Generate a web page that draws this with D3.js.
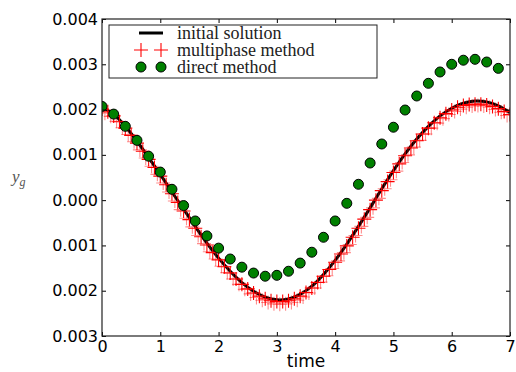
<!DOCTYPE html>
<html>
<head>
<meta charset="utf-8">
<script src="https://cdn.jsdelivr.net/npm/d3@7"></script>
<style>
  body { margin: 0; background: #fff; }
</style>
</head>
<body>
<svg id="chart" width="516" height="372"></svg>
<script>
// axis ticks
const xTicks = [0, 1, 2, 3, 4, 5, 6, 7];
const yTicks = [0.004, 0.003, 0.002, 0.001, 0.0, -0.001, -0.002, -0.003];
// the reference prints the labels without minus signs
const yTickLabels = ['0.004', '0.003', '0.002', '0.001', '0.000', '0.001', '0.002', '0.003'];

const legendLabels = ['initial solution', 'multiphase method', 'direct method'];

// initial solution (black line) and direct method (green dots), sampled every 0.2
const sampleTime = [0, 0.2, 0.4, 0.6, 0.8, 1, 1.2, 1.4, 1.6, 1.8, 2, 2.2, 2.4, 2.6, 2.8, 3, 3.2, 3.4,
  3.6, 3.8, 4, 4.2, 4.4, 4.6, 4.8, 5, 5.2, 5.4, 5.6, 5.8, 6, 6.2, 6.4, 6.6, 6.8, 7];
const initialValues = [0.00205, 0.00190, 0.00163, 0.00130, 0.00094, 0.00057, 0.00018, -0.00020,
  -0.00058, -0.00095, -0.00128, -0.00157, -0.00182, -0.00201, -0.00214, -0.00220, -0.00218, -0.00208,
  -0.00190, -0.00164, -0.00133, -0.00097, -0.00058, -0.00017, 0.00025, 0.00065, 0.00102, 0.00135,
  0.00163, 0.00186, 0.00203, 0.00214, 0.00219, 0.00217, 0.00208, 0.00193];
const directTime = sampleTime.slice(0, 35);
const directValues = [0.00207, 0.00190, 0.00163, 0.00132, 0.00097, 0.00062, 0.00024, -0.00012,
  -0.00046, -0.00079, -0.00106, -0.00130, -0.00148, -0.00161, -0.00168, -0.00166, -0.00157, -0.00139,
  -0.00115, -0.00082, -0.00046, -0.00007, 0.00035, 0.00082, 0.00124, 0.00161, 0.00199, 0.00230,
  0.00258, 0.00283, 0.00300, 0.00309, 0.00311, 0.00305, 0.00291];

// multiphase method, two interleaved sets of crosses
const multiTimeA = [0, 0.1, 0.2, 0.3, 0.4, 0.5, 0.6, 0.7, 0.8, 0.9, 1, 1.1, 1.2, 1.3, 1.4, 1.5, 1.6, 1.7,
  1.8, 1.9, 2, 2.1, 2.2, 2.3, 2.4, 2.5, 2.6, 2.7, 2.8, 2.9, 3, 3.1, 3.2, 3.3, 3.4, 3.5, 3.6, 3.7, 3.8,
  3.9, 4, 4.1, 4.2, 4.3, 4.4, 4.5, 4.6, 4.7, 4.8, 4.9, 5, 5.1, 5.2, 5.3, 5.4, 5.5, 5.6, 5.7, 5.8, 5.9,
  6, 6.1, 6.2, 6.3, 6.4, 6.5, 6.6, 6.7, 6.8, 6.9, 7];
const multiValuesA = [0.00201, 0.00195, 0.00186, 0.00173, 0.00159, 0.00143, 0.00126, 0.00108, 0.00090,
  0.00072, 0.00053, 0.00034, 0.00014, -0.00005, -0.00024, -0.00043, -0.00062, -0.00081, -0.00099,
  -0.00116, -0.00132, -0.00147, -0.00161, -0.00174, -0.00186, -0.00196, -0.00205, -0.00212, -0.00218,
  -0.00222, -0.00224, -0.00224, -0.00222, -0.00218, -0.00212, -0.00204, -0.00194, -0.00182, -0.00168,
  -0.00153, -0.00137, -0.00119, -0.00101, -0.00082, -0.00062, -0.00042, -0.00021, 0.00000, 0.00021,
  0.00041, 0.00061, 0.00080, 0.00098, 0.00115, 0.00131, 0.00146, 0.00159, 0.00171, 0.00182, 0.00191,
  0.00199, 0.00205, 0.00209, 0.00211, 0.00212, 0.00212, 0.00210, 0.00207, 0.00202, 0.00196, 0.00189];
const multiTimeB = [0.05, 0.15, 0.25, 0.35, 0.45, 0.55, 0.65, 0.75, 0.85, 0.95, 1.05, 1.15, 1.25, 1.35,
  1.45, 1.55, 1.65, 1.75, 1.85, 1.95, 2.05, 2.15, 2.25, 2.35, 2.45, 2.55, 2.65, 2.75, 2.85, 2.95, 3.05,
  3.15, 3.25, 3.35, 3.45, 3.55, 3.65, 3.75, 3.85, 3.95, 4.05, 4.15, 4.25, 4.35, 4.45, 4.55, 4.65, 4.75,
  4.85, 4.95, 5.05, 5.15, 5.25, 5.35, 5.45, 5.55, 5.65, 5.75, 5.85, 5.95, 6.05, 6.15, 6.25, 6.35, 6.45,
  6.55, 6.65, 6.75, 6.85, 6.95];
const multiValuesB = [0.00192, 0.00185, 0.00174, 0.00160, 0.00145, 0.00129, 0.00111, 0.00093, 0.00075,
  0.00057, 0.00038, 0.00018, -0.00002, -0.00021, -0.00040, -0.00059, -0.00078, -0.00096, -0.00114,
  -0.00130, -0.00146, -0.00160, -0.00174, -0.00186, -0.00197, -0.00207, -0.00215, -0.00221, -0.00226,
  -0.00229, -0.00230, -0.00229, -0.00226, -0.00221, -0.00214, -0.00205, -0.00194, -0.00181, -0.00167,
  -0.00151, -0.00134, -0.00116, -0.00098, -0.00078, -0.00058, -0.00038, -0.00017, 0.00004, 0.00025,
  0.00045, 0.00064, 0.00083, 0.00100, 0.00117, 0.00132, 0.00146, 0.00159, 0.00170, 0.00180, 0.00189,
  0.00196, 0.00201, 0.00205, 0.00208, 0.00209, 0.00208, 0.00205, 0.00200, 0.00194, 0.00187];

const width = 516;
const height = 372;
const plotLeft = 102, plotRight = 510, plotTop = 19, plotBottom = 336;
const tickFont = '"DejaVu Sans", sans-serif';
const legendFont = '"Liberation Serif", "Times New Roman", serif';

const svg = d3.select('#chart');
svg.append('rect').attr('width', width).attr('height', height).attr('fill', '#fff');

const x = d3.scaleLinear().domain([0, 7]).range([plotLeft, plotRight]);
const y = d3.scaleLinear().domain([-0.003, 0.004]).range([plotBottom, plotTop]);

svg.append('clipPath').attr('id', 'plot-clip')
  .append('rect').attr('x', plotLeft).attr('y', plotTop)
  .attr('width', plotRight - plotLeft).attr('height', plotBottom - plotTop);

const plot = svg.append('g').attr('clip-path', 'url(#plot-clip)');

// black line
const line = d3.line().x((d) => x(d[0])).y((d) => y(d[1])).curve(d3.curveCatmullRom);
plot.append('path')
  .datum(sampleTime.map((t, i) => [t, initialValues[i]]))
  .attr('d', line)
  .attr('fill', 'none')
  .attr('stroke', '#000')
  .attr('stroke-width', 3);

// crosses
const cross = 'M-7,0H7M0,-7V7';
function drawCrosses(times, values, opacity) {
  plot.append('g')
    .selectAll('path')
    .data(times.map((t, i) => [t, values[i]]))
    .join('path')
    .attr('d', cross)
    .attr('transform', (d) => `translate(${x(d[0])},${y(d[1])})`)
    .attr('fill', 'none')
    .attr('stroke', '#ff0000')
    .attr('stroke-opacity', opacity)
    .attr('stroke-width', 1.1);
}
drawCrosses(multiTimeB, multiValuesB, 0.45);
drawCrosses(multiTimeA, multiValuesA, 1);

// green dots
plot.append('g')
  .selectAll('circle')
  .data(directTime.map((t, i) => [t, directValues[i]]))
  .join('circle')
  .attr('cx', (d) => x(d[0]))
  .attr('cy', (d) => y(d[1]))
  .attr('r', 5)
  .attr('fill', '#008000')
  .attr('stroke', '#000')
  .attr('stroke-width', 1);

// axes, ticks pointing inward
function styleAxis(g) {
  g.select('.domain').remove();
  g.selectAll('line').attr('stroke', '#000');
  g.selectAll('text').attr('font-family', tickFont).attr('font-size', 16).attr('fill', '#000');
}

svg.append('g')
  .attr('transform', `translate(0,${plotBottom})`)
  .call(d3.axisBottom(x).tickValues(xTicks).tickFormat(d3.format('d')).tickSize(-4).tickPadding(5))
  .call(styleAxis);
svg.append('g')
  .attr('transform', `translate(0,${plotTop})`)
  .call(d3.axisTop(x).tickValues(xTicks).tickFormat('').tickSize(-4))
  .call(styleAxis);
svg.append('g')
  .attr('transform', `translate(${plotLeft},0)`)
  .call(d3.axisLeft(y).tickValues(yTicks).tickFormat((d, i) => yTickLabels[i]).tickSize(-4).tickPadding(4))
  .call(styleAxis);
svg.append('g')
  .attr('transform', `translate(${plotRight},0)`)
  .call(d3.axisRight(y).tickValues(yTicks).tickFormat('').tickSize(-4))
  .call(styleAxis);

// frame
svg.append('rect')
  .attr('x', plotLeft).attr('y', plotTop)
  .attr('width', plotRight - plotLeft).attr('height', plotBottom - plotTop)
  .attr('fill', 'none').attr('stroke', '#222').attr('stroke-width', 1.2);

// axis titles
svg.append('text')
  .attr('x', (plotLeft + plotRight) / 2).attr('y', 367)
  .attr('text-anchor', 'middle')
  .attr('font-family', tickFont).attr('font-size', 17)
  .text('time');

const yl = svg.append('text')
  .attr('x', 12).attr('y', 182)
  .attr('font-family', legendFont).attr('font-style', 'italic')
  .attr('font-size', 17).attr('fill', '#555');
yl.append('tspan').text('y');
yl.append('tspan').attr('font-size', 12).attr('dy', 4).text('g');

// legend
const legend = svg.append('g');
legend.append('rect')
  .attr('x', 109).attr('y', 25).attr('width', 268).attr('height', 53)
  .attr('fill', '#fff').attr('stroke', '#222').attr('stroke-width', 1);

const rowY = [33, 50, 67];
const markX = [141, 161];
legend.append('line')
  .attr('x1', 139).attr('x2', 163).attr('y1', rowY[0]).attr('y2', rowY[0])
  .attr('stroke', '#000').attr('stroke-width', 3);
markX.forEach((mx) => {
  legend.append('path').attr('d', cross)
    .attr('transform', `translate(${mx},${rowY[1]})`)
    .attr('stroke', '#ff0000').attr('stroke-width', 1.1).attr('fill', 'none');
  legend.append('circle').attr('cx', mx).attr('cy', rowY[2]).attr('r', 5)
    .attr('fill', '#008000').attr('stroke', '#000').attr('stroke-width', 1);
});
legend.selectAll('text.lab')
  .data(legendLabels)
  .join('text')
  .attr('class', 'lab')
  .attr('x', 177)
  .attr('y', (d, i) => rowY[i])
  .attr('dy', '0.32em')
  .attr('font-family', legendFont)
  .attr('font-size', 18)
  .attr('fill', '#222')
  .text((d) => d);
</script>
</body>
</html>
